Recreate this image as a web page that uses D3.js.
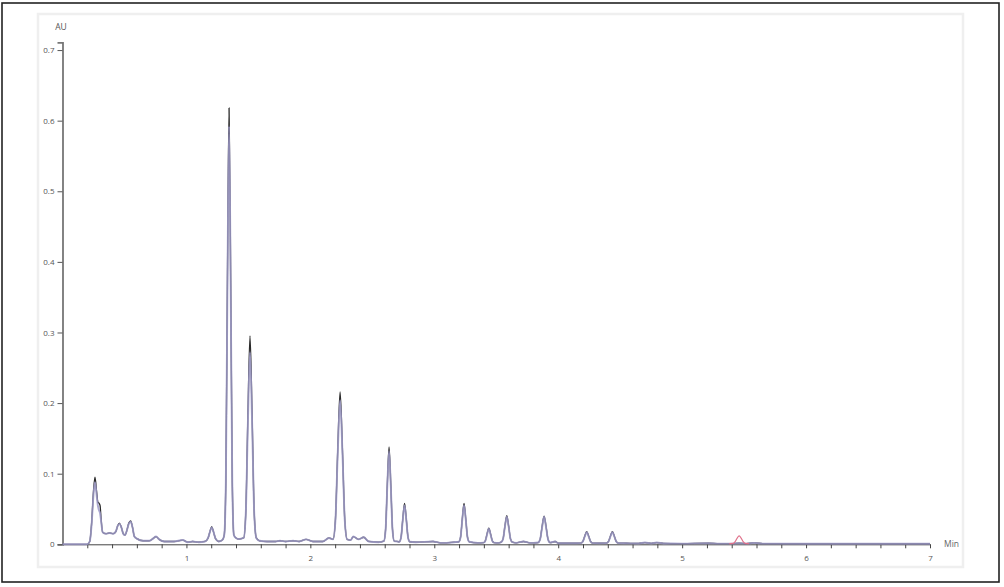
<!DOCTYPE html>
<html>
<head>
<meta charset="utf-8">
<script src="https://cdn.jsdelivr.net/npm/d3@7"></script>
<style>
  html, body { margin: 0; padding: 0; background: #fff; }
  svg { display: block; }
  text { font-family: "Open Sans", "DejaVu Sans", sans-serif; }
</style>
</head>
<body>
<svg id="chart" width="1004" height="587"></svg>
<script>
// ---------------- DATA ----------------
const yTicks = [0, 0.1, 0.2, 0.3, 0.4, 0.5, 0.6, 0.7];
const xTickLabels = [1, 2, 3, 4, 5, 6, 7];
const xMinorStep = 0.2;
const yAxisLabel = "AU";
const xAxisLabel = "Min";

// retention time (min)
const times = [
  0, 0.20, 0.22, 0.235, 0.25, 0.262, 0.275, 0.285, 0.295, 0.303, 0.312, 0.324,
  0.35, 0.38, 0.41, 0.43, 0.445, 0.459, 0.475, 0.49, 0.504, 0.52, 0.535, 0.55, 0.565, 0.58,
  0.60, 0.65, 0.70, 0.73, 0.755, 0.78, 0.82, 0.90, 0.97, 1.01, 1.05, 1.10, 1.15,
  1.175, 1.19, 1.204, 1.218, 1.235, 1.26, 1.29,
  1.305, 1.318, 1.331, 1.344, 1.357, 1.37, 1.383, 1.40, 1.425,
  1.462, 1.479, 1.496, 1.513, 1.53, 1.547, 1.564,
  1.59, 1.65, 1.72, 1.755, 1.80, 1.86, 1.91, 1.965, 2.02, 2.10, 2.15,
  2.183, 2.202, 2.221, 2.24, 2.259, 2.278, 2.297,
  2.325, 2.347, 2.39, 2.43, 2.47, 2.55,
  2.593, 2.607, 2.621, 2.635, 2.649, 2.663, 2.677,
  2.70,
  2.718, 2.732, 2.746, 2.76, 2.774, 2.788, 2.802,
  2.85, 2.99, 3.05, 3.10, 3.16,
  3.198, 3.212, 3.226, 3.24, 3.254, 3.268, 3.282,
  3.35,
  3.398, 3.412, 3.426, 3.44, 3.454, 3.468, 3.482,
  3.52,
  3.54, 3.555, 3.57, 3.585, 3.60, 3.615, 3.63,
  3.66, 3.72, 3.77, 3.80,
  3.838, 3.854, 3.87, 3.886, 3.902, 3.918, 3.934,
  3.975, 4.0, 4.05, 4.15,
  4.182, 4.198, 4.214, 4.23, 4.246, 4.262, 4.278,
  4.33,
  4.389, 4.405, 4.421, 4.437, 4.453, 4.469, 4.485,
  4.55, 4.65, 4.70, 4.75, 4.795, 4.85, 5.0, 5.21, 5.30, 5.40, 5.46, 5.52, 5.58, 5.65,
  6.0, 6.5, 6.95, 7.0
];

// run 1 (dark trace), AU
const run1 = [
  0, 0, 0.004, 0.03, 0.075, 0.095, 0.075, 0.06, 0.058, 0.055, 0.035, 0.017,
  0.015, 0.016, 0.015, 0.018, 0.026, 0.030, 0.024, 0.015, 0.013, 0.02, 0.03, 0.033, 0.024, 0.011,
  0.008, 0.005, 0.005, 0.008, 0.011, 0.007, 0.004, 0.004, 0.006, 0.003, 0.004, 0.003, 0.004,
  0.009, 0.018, 0.025, 0.018, 0.008, 0.004, 0.006,
  0.013, 0.089, 0.377, 0.618, 0.377, 0.089, 0.013, 0.009, 0.0075,
  0.009, 0.045, 0.182, 0.295, 0.182, 0.045, 0.009,
  0.005, 0.004, 0.004, 0.005, 0.004, 0.005, 0.004, 0.007, 0.004, 0.004, 0.009,
  0.007, 0.034, 0.134, 0.216, 0.134, 0.034, 0.007,
  0.006, 0.011, 0.007, 0.01, 0.004, 0.003,
  0.0045, 0.021, 0.085, 0.138, 0.085, 0.021, 0.0045,
  0.004,
  0.0036, 0.010, 0.036, 0.058, 0.036, 0.010, 0.0036,
  0.003, 0.004, 0.002, 0.002, 0.003,
  0.0036, 0.010, 0.036, 0.058, 0.036, 0.010, 0.0036,
  0.002,
  0.0023, 0.005, 0.0147, 0.023, 0.0147, 0.005, 0.0023,
  0.002,
  0.003, 0.0076, 0.0256, 0.0405, 0.0256, 0.0076, 0.003,
  0.002, 0.004, 0.002, 0.002,
  0.0025, 0.007, 0.025, 0.040, 0.025, 0.007, 0.0025,
  0.004, 0.0015, 0.0015, 0.0015,
  0.0017, 0.0037, 0.0115, 0.018, 0.0115, 0.0037, 0.0017,
  0.0015,
  0.0017, 0.0037, 0.0115, 0.018, 0.0115, 0.0037, 0.0017,
  0.0015, 0.0012, 0.0025, 0.0012, 0.0025, 0.0012, 0.001, 0.0015, 0.001, 0.001, 0.0015, 0.001, 0.002, 0.001,
  0.0008, 0.0008, 0.0008, 0.0008
];

// run 2 (lavender trace), AU
const run2 = [
  0, 0, 0.004, 0.028, 0.07, 0.088, 0.07, 0.055, 0.048, 0.044, 0.032, 0.017,
  0.015, 0.016, 0.015, 0.018, 0.026, 0.029, 0.024, 0.015, 0.013, 0.02, 0.029, 0.032, 0.024, 0.011,
  0.008, 0.005, 0.005, 0.008, 0.011, 0.007, 0.004, 0.004, 0.006, 0.003, 0.004, 0.003, 0.004,
  0.009, 0.018, 0.024, 0.018, 0.008, 0.004, 0.006,
  0.013, 0.087, 0.368, 0.592, 0.368, 0.087, 0.013, 0.009, 0.0075,
  0.009, 0.044, 0.172, 0.272, 0.172, 0.044, 0.009,
  0.005, 0.004, 0.004, 0.005, 0.004, 0.005, 0.004, 0.007, 0.004, 0.004, 0.009,
  0.007, 0.033, 0.129, 0.204, 0.129, 0.033, 0.007,
  0.006, 0.011, 0.007, 0.01, 0.004, 0.003,
  0.0045, 0.02, 0.083, 0.132, 0.083, 0.02, 0.0045,
  0.004,
  0.0036, 0.010, 0.035, 0.055, 0.035, 0.010, 0.0036,
  0.003, 0.004, 0.002, 0.002, 0.003,
  0.0036, 0.010, 0.035, 0.055, 0.035, 0.010, 0.0036,
  0.002,
  0.0023, 0.005, 0.014, 0.022, 0.014, 0.005, 0.0023,
  0.002,
  0.003, 0.0076, 0.025, 0.039, 0.025, 0.0076, 0.003,
  0.002, 0.004, 0.002, 0.002,
  0.0025, 0.007, 0.024, 0.039, 0.024, 0.007, 0.0025,
  0.004, 0.0015, 0.0015, 0.0015,
  0.0017, 0.0037, 0.011, 0.017, 0.011, 0.0037, 0.0017,
  0.0015,
  0.0017, 0.0037, 0.011, 0.017, 0.011, 0.0037, 0.0017,
  0.0015, 0.0012, 0.0025, 0.0012, 0.0025, 0.0012, 0.001, 0.0015, 0.001, 0.001, 0.0015, 0.001, 0.002, 0.001,
  0.0008, 0.0008, 0.0008, 0.0008
];

// run 3 (pink trace) – only visible around 5.46 min
const run3Times = [5.38, 5.41, 5.426, 5.443, 5.46, 5.477, 5.494, 5.51, 5.54];
const run3 = [0.001, 0.0013, 0.0035, 0.0085, 0.012, 0.0085, 0.0035, 0.0013, 0.001];

// ---------------- DRAWING ----------------
const svg = d3.select("#chart");

// outer frame and inner panel
svg.append("rect").attr("x", 2).attr("y", 3).attr("width", 997).attr("height", 579)
  .attr("fill", "none").attr("stroke", "#222").attr("stroke-width", 1.6);
svg.append("rect").attr("x", 38).attr("y", 14).attr("width", 925).attr("height", 553)
  .attr("fill", "none").attr("stroke", "#efefef").attr("stroke-width", 2.5);

const x = d3.scaleLinear().domain([0, 7]).range([62.5, 930]);
const y = d3.scaleLinear().domain([0, 0.711]).range([544.3, 42.3]);

// y axis
const yAxis = d3.axisLeft(y).tickValues(yTicks).tickSize(5).tickPadding(3)
  .tickFormat(d => d === 0 ? "0" : d3.format(".1f")(d));
const gy = svg.append("g").attr("transform", `translate(${x(0)},0)`).call(yAxis);
gy.select(".domain").attr("stroke", "#777").attr("stroke-width", 1.8);
gy.selectAll(".tick line").attr("stroke", "#555").attr("stroke-width", 1);
gy.selectAll(".tick text").attr("fill", "#555").style("font-size", "8px");

// x axis (minor ticks every 0.2 min)
const xTickVals = d3.range(1, 36).map(i => +(i * xMinorStep).toFixed(1));
const xAxis = d3.axisBottom(x).tickValues(xTickVals).tickSize(4).tickPadding(7)
  .tickSizeOuter(0)
  .tickFormat(d => xTickLabels.includes(d) ? String(d) : "");
const gx = svg.append("g").attr("transform", `translate(0,${y(0)})`).call(xAxis);
gx.select(".domain").attr("stroke", "#444").attr("stroke-width", 1);
gx.selectAll(".tick line").attr("stroke", "#444").attr("stroke-width", 1);
gx.selectAll(".tick text").attr("fill", "#555").style("font-size", "8px");

// axis titles
svg.append("text").attr("x", 61).attr("y", 30).attr("text-anchor", "middle")
  .attr("fill", "#555").style("font-size", "8.5px").text(yAxisLabel);
svg.append("text").attr("x", 944).attr("y", 547).attr("text-anchor", "start")
  .attr("fill", "#666").style("font-size", "8.5px").text(xAxisLabel);

// traces
const line = d3.line().x(d => x(d[0])).y(d => y(d[1])).curve(d3.curveMonotoneX);
const s1 = d3.zip(times, run1);
const s2 = d3.zip(times, run2);
const s3 = d3.zip(run3Times, run3);

svg.append("path").datum(s1).attr("d", line).attr("fill", "none")
  .attr("stroke", "#2a2a2a").attr("stroke-width", 1.3).attr("stroke-linejoin", "round");
svg.append("path").datum(s2).attr("d", line).attr("fill", "none")
  .attr("stroke", "#9e9ac8").attr("stroke-width", 1.9).attr("stroke-opacity", 0.85)
  .attr("stroke-linejoin", "round");
svg.append("path").datum(s3).attr("d", line).attr("fill", "none")
  .attr("stroke", "#e0708a").attr("stroke-width", 1.2);
</script>
</body>
</html>
